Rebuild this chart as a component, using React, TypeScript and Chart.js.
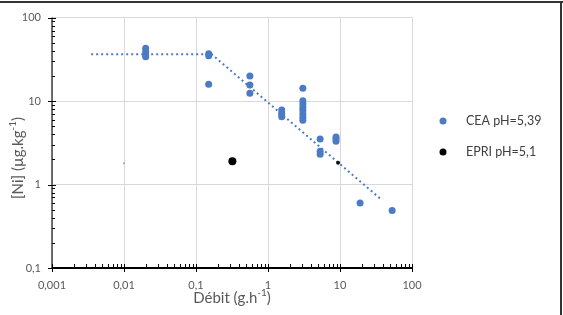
import React, { useEffect, useRef } from "react";
import { Chart, registerables } from "chart.js";
Chart.register(...registerables);

const ceaX = [0.02, 0.02, 0.02, 0.02, 0.15, 0.15, 0.15, 0.56, 0.56, 0.56, 1.55, 1.55, 1.55,
  3.05, 3.05, 3.05, 3.05, 3.05, 3.05, 3.05, 3.05, 5.3, 5.3, 5.3, 8.8, 8.8, 8.8, 19, 53];
const ceaY = [43, 39, 36, 34, 37, 35, 15.9, 19.9, 15.6, 12.4, 7.8, 7.1, 6.5,
  14.2, 10.1, 9.2, 8.4, 7.7, 7.0, 6.4, 5.9, 3.5, 2.5, 2.3, 3.7, 3.5, 3.3, 0.6, 0.49];
const epriX = [0.01, 0.32, 9.4];
const epriY = [1.8, 1.9, 1.83];
const trendX = [0.0035, 0.166, 36];
const trendY = [36.3, 36.3, 0.68];
const xTickValues = [0.001, 0.01, 0.1, 1, 10, 100];
const xTickLabels = ["0,001", "0,01", "0,1", "1", "10", "100"];
const yTickValues = [0.1, 1, 10, 100];
const yTickLabels = ["0,1", "1", "10", "100"];
const seriesNames = ["CEA pH=5,39", "EPRI pH=5,1"];
const xTitleParts = ["Débit (g.h", "-1", ")"];
const yTitleParts = ["[Ni] (µg.kg", "-1", ")"];

const BLUE = "#4a7bc4";
const FONT = "Lato, 'Open Sans', sans-serif";

function labelFor(values: number[], labels: string[], v: number) {
  const i = values.findIndex((t) => Math.abs(Math.log10(t) - Math.log10(v)) < 1e-6);
  return i >= 0 ? labels[i] : "";
}

function drawSupText(ctx: CanvasRenderingContext2D, parts: string[], cx: number, cy: number) {
  const big = `15px ${FONT}`;
  const small = `10px ${FONT}`;
  ctx.font = big;
  const w1 = ctx.measureText(parts[0]).width;
  const w3 = ctx.measureText(parts[2]).width;
  ctx.font = small;
  const w2 = ctx.measureText(parts[1]).width;
  const total = w1 + w2 + w3;
  let x = cx - total / 2;
  ctx.textAlign = "left";
  ctx.textBaseline = "middle";
  ctx.font = big;
  ctx.fillText(parts[0], x, cy);
  x += w1;
  ctx.font = small;
  ctx.fillText(parts[1], x, cy - 5);
  x += w2;
  ctx.font = big;
  ctx.fillText(parts[2], x, cy);
}

const decorPlugin = {
  id: "decor",
  afterDraw(chart: any) {
    const ctx: CanvasRenderingContext2D = chart.ctx;
    const xs = chart.scales.x;
    const ys = chart.scales.y;
    const area = chart.chartArea;
    ctx.save();
    // axis lines
    ctx.strokeStyle = "#404040";
    ctx.lineWidth = 1.5;
    ctx.beginPath();
    ctx.moveTo(area.left, area.top);
    ctx.lineTo(area.left, area.bottom);
    ctx.stroke();
    ctx.strokeStyle = "#000";
    ctx.lineWidth = 2;
    ctx.beginPath();
    ctx.moveTo(area.left, area.bottom);
    ctx.lineTo(area.right, area.bottom);
    ctx.stroke();
    // ticks
    ctx.lineWidth = 1;
    ctx.strokeStyle = "#000";
    for (let d = -1; d <= 2; d++) {
      const base = Math.pow(10, d);
      const yp = Math.round(ys.getPixelForValue(base)) + 0.5;
      ctx.beginPath();
      ctx.moveTo(area.left - 4, yp);
      ctx.lineTo(area.left + 4, yp);
      ctx.stroke();
      if (d < 2) {
        for (let m = 2; m <= 9; m++) {
          const p = Math.round(ys.getPixelForValue(m * base)) + 0.5;
          ctx.beginPath();
          ctx.moveTo(area.left, p);
          ctx.lineTo(area.left + 3, p);
          ctx.stroke();
        }
      }
    }
    for (let d = -3; d <= 2; d++) {
      const base = Math.pow(10, d);
      const xp = Math.round(xs.getPixelForValue(base)) + 0.5;
      ctx.beginPath();
      ctx.moveTo(xp, area.bottom - 4);
      ctx.lineTo(xp, area.bottom + 4);
      ctx.stroke();
      if (d < 2) {
        for (let m = 2; m <= 9; m++) {
          const p = Math.round(xs.getPixelForValue(m * base)) + 0.5;
          ctx.beginPath();
          ctx.moveTo(p, area.bottom);
          ctx.lineTo(p, area.bottom - 4);
          ctx.stroke();
        }
      }
    }
    // titles
    ctx.fillStyle = "#595959";
    drawSupText(ctx, xTitleParts, (area.left + area.right) / 2, 298);
    ctx.save();
    ctx.translate(18, 158);
    ctx.rotate(-Math.PI / 2);
    drawSupText(ctx, yTitleParts, 0, 0);
    ctx.restore();
    // legend
    const legendColors = [BLUE, "#000"];
    const legendY = [121, 152];
    seriesNames.forEach((name, i) => {
      ctx.fillStyle = legendColors[i];
      ctx.beginPath();
      ctx.arc(443, legendY[i], 3.5, 0, Math.PI * 2);
      ctx.fill();
      ctx.fillStyle = "#404040";
      ctx.font = `12.5px ${FONT}`;
      ctx.textAlign = "left";
      ctx.textBaseline = "middle";
      ctx.fillText(name, 466, legendY[i]);
    });
    // frame
    ctx.fillStyle = "#333";
    ctx.fillRect(0, 1, chart.width, 2);
    ctx.fillRect(chart.width - 3, 1, 2, chart.height);
    ctx.restore();
  },
};

export default function App() {
  const ref = useRef<HTMLCanvasElement>(null);
  useEffect(() => {
    document.body.style.margin = "0";
    const chart = new Chart(ref.current!, {
      type: "scatter",
      data: {
        datasets: [
          {
            label: "trend",
            data: trendX.map((x, i) => ({ x, y: trendY[i] })),
            showLine: true,
            borderColor: BLUE,
            borderWidth: 2,
            borderDash: [2, 3],
            pointRadius: 0,
            order: 3,
          },
          {
            label: seriesNames[0],
            data: ceaX.map((x, i) => ({ x, y: ceaY[i] })),
            backgroundColor: BLUE,
            borderColor: BLUE,
            pointRadius: 3.5,
            borderWidth: 0,
            order: 1,
          },
          {
            label: seriesNames[1],
            data: epriX.map((x, i) => ({ x, y: epriY[i] })),
            backgroundColor: ["#a0a0a0", "#000", "#111"],
            borderColor: ["#a0a0a0", "#000", "#111"],
            pointRadius: [1, 4, 2],
            borderWidth: 0,
            order: 2,
          },
        ],
      },
      options: {
        animation: false,
        responsive: false,
        devicePixelRatio: 1,
        layout: { padding: { left: 0, top: 15, right: 151, bottom: 0 } },
        plugins: { legend: { display: false }, tooltip: { enabled: false } },
        scales: {
          x: {
            type: "logarithmic",
            min: 0.001,
            max: 100,
            afterBuildTicks: (s: any) => {
              s.ticks = xTickValues.map((v) => ({ value: v }));
            },
            afterFit: (s: any) => {
              s.height = 47;
            },
            grid: { color: "#d9d9d9", drawTicks: false, lineWidth: 1 },
            border: { display: false },
            ticks: {
              autoSkip: false,
              maxRotation: 0,
              padding: 11,
              color: "#595959",
              font: { family: FONT, size: 11 },
              callback: (v: any) => labelFor(xTickValues, xTickLabels, Number(v)),
            },
          },
          y: {
            type: "logarithmic",
            min: 0.1,
            max: 100,
            afterBuildTicks: (s: any) => {
              s.ticks = yTickValues.map((v) => ({ value: v }));
            },
            afterFit: (s: any) => {
              s.width = 52;
            },
            grid: { color: "#d9d9d9", drawTicks: false, lineWidth: 1 },
            border: { display: false },
            ticks: {
              autoSkip: false,
              padding: 11,
              color: "#595959",
              font: { family: FONT, size: 11 },
              callback: (v: any) => labelFor(yTickValues, yTickLabels, Number(v)),
            },
          },
        },
      },
      plugins: [decorPlugin],
    } as any);
    return () => chart.destroy();
  }, []);
  return (
    <div style={{ width: 563, height: 315, position: "relative", background: "#fff" }}>
      <canvas ref={ref} width={563} height={315} />
    </div>
  );
}
